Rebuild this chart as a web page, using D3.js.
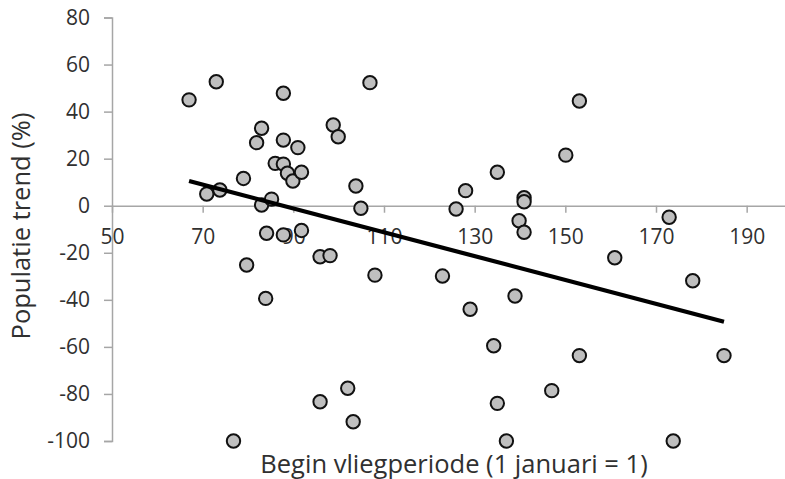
<!DOCTYPE html>
<html><head><meta charset="utf-8">
<script src="https://cdn.jsdelivr.net/npm/d3@7"></script>
<style>body{margin:0;background:#fff;} svg{display:block;}</style>
</head><body>
<svg id="chart" width="785" height="479"></svg>
<script>
// Begin vliegperiode (day of year)
const xValues = [67,73,87.8,106.9,83,81.9,87.8,91,98.8,99.9,86,87.8,88.7,89.9,91.8,79,70.9,73.8,83,85.2,103.8,104.9,
  153.1,150.1,135,128,125.9,140.9,140.9,139.8,140.9,172.9,
  84.1,87.8,91.8,79.7,83.9,95.9,98.1,108,95.9,102,103.2,76.8,
  122.9,129,138.9,160.9,178.1,134.2,153.1,185,147,135,137,173.8];
// Populatie trend (%)
const yValues = [45,52.7,47.8,52.3,32.9,26.8,27.9,24.7,34.3,29.3,18,17.7,13.8,10.5,14.2,11.6,5,6.7,0.3,2.8,8.4,-1.1,
  44.5,21.5,14.2,6.4,-1.4,3.4,1.7,-6.4,-11.3,-4.9,
  -11.7,-12.4,-10.5,-25.2,-39.4,-21.7,-21.2,-29.5,-83.3,-77.6,-91.8,-100,
  -29.9,-44,-38.4,-22.1,-31.9,-59.5,-63.7,-63.7,-78.6,-84,-100,-100];
// Trend line endpoints
const trendX = [67,185];
const trendY = [10.5,-49.3];
const xTicks = [50,70,90,110,130,150,170,190];
const yTicks = [-100,-80,-60,-40,-20,0,20,40,60,80];

const svg = d3.select("#chart");
const font = "'Open Sans', sans-serif";
const x = d3.scaleLinear().domain([50,200]).range([112,792]);
const y = d3.scaleLinear().domain([-100,80]).range([441,17.5]);
const axisColor = "#a6a6a6";
const textColor = "#303030";
const fmt = d => String(d);

// y axis
const yAxis = svg.append("g").attr("transform",`translate(${x(50)},0)`)
  .call(d3.axisLeft(y).tickValues(yTicks).tickSize(8).tickPadding(14).tickFormat(fmt));
yAxis.select(".domain").attr("stroke",axisColor).attr("stroke-width",1.5);
yAxis.selectAll(".tick line").attr("stroke",axisColor).attr("stroke-width",1.5);
yAxis.selectAll("text").attr("fill",textColor).style("font-family",font).style("font-size","21px");

// x axis at y=0
const xAxis = svg.append("g").attr("transform",`translate(0,${y(0)})`)
  .call(d3.axisBottom(x).tickValues(xTicks).tickSize(7).tickSizeOuter(0).tickPadding(16).tickFormat(fmt));
xAxis.select(".domain").attr("stroke",axisColor).attr("stroke-width",1.5);
xAxis.selectAll(".tick line").attr("stroke",axisColor).attr("stroke-width",1.5);
xAxis.selectAll("text").attr("fill",textColor).style("font-family",font).style("font-size","21px");

// points
const pts = xValues.map((v,i)=>({x:v,y:yValues[i]}));
svg.append("g").selectAll("circle").data(pts).join("circle")
  .attr("cx",d=>x(d.x)).attr("cy",d=>y(d.y)).attr("r",6.7)
  .attr("fill","#bfbfbf").attr("stroke","#111").attr("stroke-width",2);

// trend line
svg.append("line")
  .attr("x1",x(trendX[0])).attr("y1",y(trendY[0]))
  .attr("x2",x(trendX[1])).attr("y2",y(trendY[1]))
  .attr("stroke","#000").attr("stroke-width",4.2);

// axis titles
svg.append("text").attr("x",454).attr("y",473).attr("text-anchor","middle")
  .attr("fill",textColor).style("font-family",font).style("font-size","25.5px")
  .text("Begin vliegperiode (1 januari = 1)");
svg.append("text").attr("transform","translate(30,226) rotate(-90)").attr("text-anchor","middle")
  .attr("fill",textColor).style("font-family",font).style("font-size","25.5px")
  .text("Populatie trend (%)");
</script>
</body></html>
